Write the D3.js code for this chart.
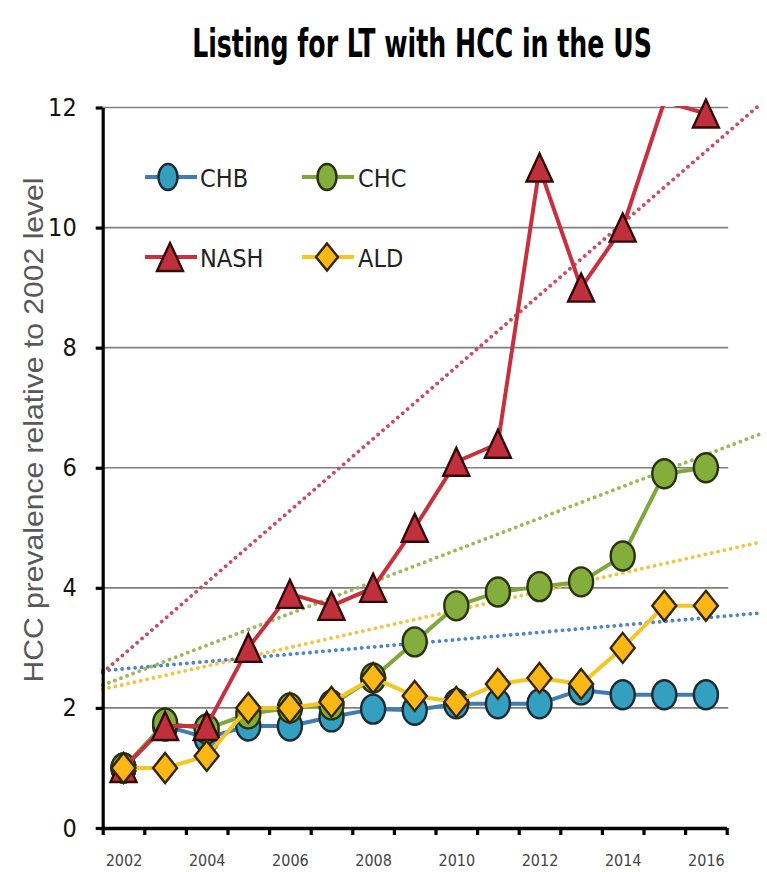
<!DOCTYPE html>
<html>
<head>
<meta charset="utf-8">
<script src="https://cdn.jsdelivr.net/npm/d3@7/dist/d3.min.js"></script>
<style>
  html, body { margin: 0; padding: 0; background: #fff; }
  svg { display: block; }
</style>
</head>
<body>
<svg id="chart" width="767" height="872"></svg>
<script>
// ---------- DATA ----------
const years = [2002, 2003, 2004, 2005, 2006, 2007, 2008, 2009, 2010, 2011, 2012, 2013, 2014, 2015, 2016];
const chb  = [1.0, 1.7, 1.5, 1.7, 1.7, 1.85, 1.98, 1.96, 2.07, 2.07, 2.07, 2.3, 2.22, 2.22, 2.22];
const chc  = [1.0, 1.75, 1.65, 1.9, 2.0, 2.05, 2.5, 3.1, 3.7, 3.93, 4.02, 4.1, 4.53, 5.9, 6.0];
const nash = [1.0, 1.7, 1.7, 3.0, 3.9, 3.7, 4.0, 5.0, 6.1, 6.4, 11.0, 9.0, 10.0, 12.1, 11.9];
const ald  = [1.0, 1.0, 1.2, 2.0, 2.0, 2.1, 2.5, 2.2, 2.1, 2.4, 2.5, 2.4, 3.0, 3.7, 3.7];

// dotted linear trend lines: value at start / end year
const trendYears = [2001.5, 2017.3];
const trendCHB  = [2.62, 3.58];
const trendCHC  = [2.38, 6.56];
const trendNASH = [2.59, 12.05];
const trendALD  = [2.31, 4.76];

const yTicks = [0, 2, 4, 6, 8, 10, 12];
const xLabelYears = [2002, 2004, 2006, 2008, 2010, 2012, 2014, 2016];
const xBoundaries = [2001.5, 2002.5, 2003.5, 2004.5, 2005.5, 2006.5, 2007.5, 2008.5, 2009.5, 2010.5, 2011.5, 2012.5, 2013.5, 2014.5, 2015.5, 2016.5];

const titleText = "Listing for LT with HCC in the US";
const yTitleText = "HCC prevalence relative to 2002 level";

// ---------- SETUP ----------
const svg = d3.select("#chart");
const narrow = "'Liberation Sans Narrow', 'DejaVu Sans Condensed', 'Liberation Sans', sans-serif";

const x = d3.scaleLinear().domain([2001.5, 2016.5]).range([102.7, 726.7]);
const y = d3.scaleLinear().domain([0, 12]).range([828, 107.5]);

const series = [
  { name: "CHB",  values: chb,  trend: trendCHB,  line: "#3f7db0", fill: "#33a0c2", stroke: "#1b2a33", trendColor: "#4f86c6", shape: "circle" },
  { name: "CHC",  values: chc,  trend: trendCHC,  line: "#80a73c", fill: "#84ae3b", stroke: "#26330c", trendColor: "#9bbb59", shape: "circle" },
  { name: "NASH", values: nash, trend: trendNASH, line: "#c8303d", fill: "#c0303c", stroke: "#330808", trendColor: "#c9505f", shape: "triangle" },
  { name: "ALD",  values: ald,  trend: trendALD,  line: "#f3c623", fill: "#fbb714", stroke: "#352600", trendColor: "#f2c444", shape: "diamond" }
];

// clip for series lines
const defs = svg.append("defs");
defs.append("clipPath").attr("id", "plotClip")
  .append("rect")
  .attr("x", x.range()[0]).attr("y", y(12) - 1.5)
  .attr("width", x.range()[1] - x.range()[0] + 2)
  .attr("height", y(0) - y(12) + 1.5);

// ---------- TITLE ----------
const title = svg.append("text")
  .attr("x", 0).attr("y", 0)
  .attr("text-anchor", "middle")
  .attr("font-family", narrow)
  .attr("font-weight", "bold")
  .attr("font-size", 36)
  .attr("fill", "#000")
  .text(titleText);
const tLen = title.node().getComputedTextLength();
title.attr("transform", `translate(422,57) scale(${Math.min(1, 460 / tLen)},1.1)`);

// ---------- Y TITLE ----------
svg.append("text")
  .attr("transform", "translate(43,430) rotate(-90)")
  .attr("text-anchor", "middle")
  .attr("font-family", "'Liberation Sans', Arial, sans-serif")
  .attr("font-size", 28)
  .attr("textLength", 505)
  .attr("lengthAdjust", "spacingAndGlyphs")
  .attr("fill", "#595959")
  .text(yTitleText);

// ---------- GRIDLINES ----------
svg.append("g").selectAll("line")
  .data(yTicks.filter(d => d > 0))
  .join("line")
  .attr("x1", x.range()[0]).attr("x2", x.range()[1] + 1.5)
  .attr("y1", d => y(d)).attr("y2", d => y(d))
  .attr("stroke", "#7f7f7f").attr("stroke-width", 1.6);

// ---------- TREND LINES ----------
const trendG = svg.append("g");
series.forEach(s => {
  trendG.append("path")
    .datum(trendYears.map((t, i) => [t, s.trend[i]]))
    .attr("d", d3.line().x(d => x(d[0])).y(d => y(d[1])))
    .attr("fill", "none")
    .attr("stroke", s.trendColor)
    .attr("stroke-width", 3.8)
    .attr("stroke-linecap", "round")
    .attr("stroke-dasharray", "0.1 6.4");
});

// ---------- SERIES ----------
const rx = 12, ry = 14.5;
function markerPath(shape, w, h) {
  if (shape === "triangle") {
    return `M0,${-h/2}L${w/2},${h/2}L${-w/2},${h/2}Z`;
  }
  if (shape === "diamond") {
    return `M0,${-h/2}L${w/2},0L0,${h/2}L${-w/2},0Z`;
  }
  return null;
}

series.forEach(s => {
  const g = svg.append("g");
  const pts = years.map((yr, i) => [yr, s.values[i]]);
  g.append("path")
    .datum(pts)
    .attr("clip-path", "url(#plotClip)")
    .attr("d", d3.line().x(d => x(d[0])).y(d => y(d[1])))
    .attr("fill", "none")
    .attr("stroke", s.line)
    .attr("stroke-width", 4)
    .attr("stroke-linejoin", "round");

  const visible = pts.filter(d => d[1] <= y.domain()[1]);
  if (s.shape === "circle") {
    g.selectAll("ellipse").data(visible).join("ellipse")
      .attr("cx", d => x(d[0])).attr("cy", d => y(d[1]))
      .attr("rx", rx).attr("ry", ry)
      .attr("fill", s.fill).attr("stroke", s.stroke).attr("stroke-width", 2.4);
  } else {
    const w = s.shape === "triangle" ? 26 : 24;
    const h = s.shape === "triangle" ? 28 : 30;
    g.selectAll("path.m").data(visible).join("path")
      .attr("class", "m")
      .attr("transform", d => `translate(${x(d[0])},${y(d[1])})`)
      .attr("d", markerPath(s.shape, w, h))
      .attr("fill", s.fill).attr("stroke", s.stroke).attr("stroke-width", 2.4)
      .attr("stroke-linejoin", "miter");
  }
});

// ---------- AXES ----------
const yAxis = d3.axisLeft(y).tickValues(yTicks).tickSize(7).tickSizeOuter(0).tickPadding(19);
const yAxisG = svg.append("g").attr("transform", `translate(${x.range()[0]},0)`).call(yAxis);
yAxisG.select(".domain").attr("stroke", "#000").attr("stroke-width", 3.2);
yAxisG.selectAll(".tick line").attr("stroke", "#000").attr("stroke-width", 3.2);
yAxisG.selectAll(".tick text")
  .attr("font-family", narrow).attr("font-size", 25).attr("fill", "#111");

const xAxis = d3.axisBottom(x).tickValues(xBoundaries).tickSize(7).tickSizeOuter(0).tickFormat("");
const xAxisG = svg.append("g").attr("transform", `translate(0,${y(0)})`).call(xAxis);
xAxisG.select(".domain").attr("stroke", "#000").attr("stroke-width", 3.6);
xAxisG.selectAll(".tick line").attr("stroke", "#000").attr("stroke-width", 3.2);

const xLab = d3.axisBottom(x).tickValues(xLabelYears).tickSize(0).tickPadding(27).tickFormat(d3.format("d"));
const xLabG = svg.append("g").attr("transform", `translate(0,${y(0)})`).call(xLab);
xLabG.select(".domain").remove();
xLabG.selectAll(".tick text")
  .attr("font-family", narrow).attr("font-size", 16).attr("fill", "#444");

// ---------- LEGEND ----------
const legendPos = [
  { lx: 145, mx: 168, tx: 200, ly: 177 },
  { lx: 302, mx: 327, tx: 358, ly: 177 },
  { lx: 145, mx: 170, tx: 200, ly: 257 },
  { lx: 302, mx: 327, tx: 358, ly: 257 }
];
const leg = svg.append("g");
series.forEach((s, i) => {
  const p = legendPos[i];
  leg.append("line")
    .attr("x1", p.lx).attr("x2", p.lx + 52)
    .attr("y1", p.ly).attr("y2", p.ly)
    .attr("stroke", s.line).attr("stroke-width", 4);
  if (s.shape === "circle") {
    leg.append("ellipse").attr("cx", p.mx).attr("cy", p.ly).attr("rx", 9.5).attr("ry", 13)
      .attr("fill", s.fill).attr("stroke", s.stroke).attr("stroke-width", 2.4);
  } else {
    const w = s.shape === "triangle" ? 26 : 22;
    const h = s.shape === "triangle" ? 28 : 27;
    leg.append("path").attr("transform", `translate(${p.mx},${p.ly})`)
      .attr("d", markerPath(s.shape, w, h))
      .attr("fill", s.fill).attr("stroke", s.stroke).attr("stroke-width", 2.4);
  }
  leg.append("text")
    .attr("x", p.tx).attr("y", p.ly + 10)
    .attr("font-family", narrow).attr("font-size", 25).attr("fill", "#222")
    .text(s.name);
});
</script>
</body>
</html>
